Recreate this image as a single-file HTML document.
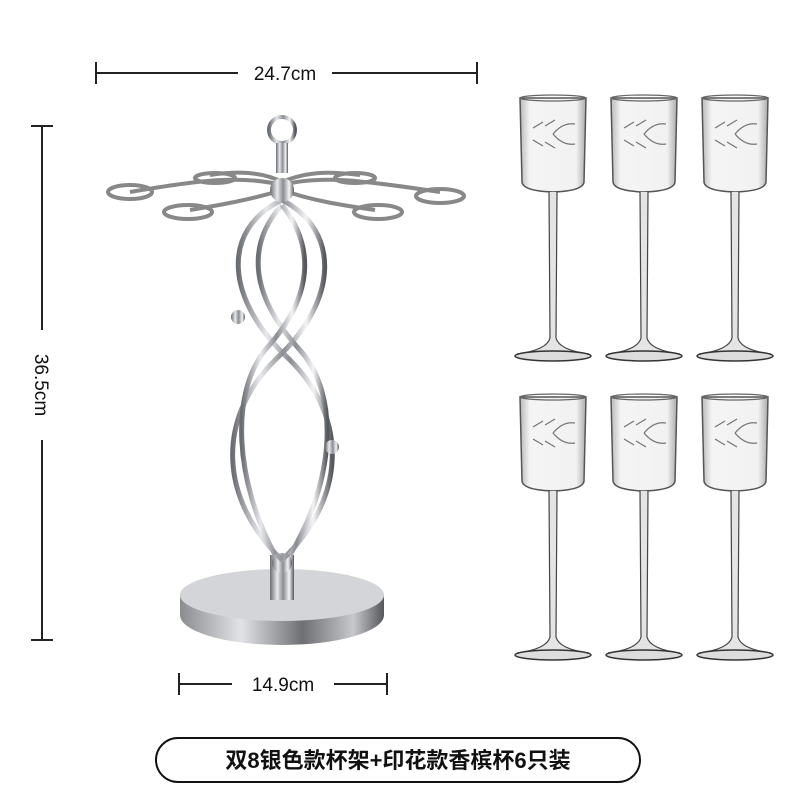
<!DOCTYPE html>
<html><head><meta charset="utf-8"><style>
html,body{margin:0;padding:0;background:#fff;}
body{width:800px;height:800px;position:relative;overflow:hidden;font-family:"Liberation Sans","Noto Sans CJK SC",sans-serif;}
svg{position:absolute;left:0;top:0;}
</style></head><body>
<svg width="800" height="800" viewBox="0 0 800 800" xmlns="http://www.w3.org/2000/svg">
<defs>
<linearGradient id="chrome" x1="0" y1="0" x2="1" y2="0">
<stop offset="0" stop-color="#6a6d72"/><stop offset="0.3" stop-color="#e8e9ec"/><stop offset="0.55" stop-color="#8a8d92"/><stop offset="0.8" stop-color="#f4f4f6"/><stop offset="1" stop-color="#55585c"/>
</linearGradient>
<linearGradient id="base" x1="0" y1="0" x2="1" y2="0">
<stop offset="0" stop-color="#8a8c90"/><stop offset="0.3" stop-color="#e2e3e6"/><stop offset="0.6" stop-color="#6d6f73"/><stop offset="0.85" stop-color="#c7c8cb"/><stop offset="1" stop-color="#55575b"/>
</linearGradient>
<linearGradient id="glass" x1="0" y1="0" x2="1" y2="0">
<stop offset="0" stop-color="#b8b9bb"/><stop offset="0.15" stop-color="#f4f4f4"/><stop offset="0.85" stop-color="#f2f2f2"/><stop offset="1" stop-color="#a9aaac"/>
</linearGradient>
<g id="g">
<path d="M-33,0 L33,0 L31,84 Q30,93 0,94 Q-30,93 -31,84 Z" fill="url(#glass)" stroke="#555" stroke-width="1.5"/>
<ellipse cx="0" cy="0" rx="33" ry="3" fill="none" stroke="#666" stroke-width="1.2"/>
<path d="M-20,30 l10,-6 m2,4 l10,-6 M-20,42 l10,6 m2,-4 l10,6 M0,36 q10,-12 22,-10 M0,36 q10,12 22,10" stroke="#777" stroke-width="1.3" fill="none"/>
<path d="M-4,94 L-3,240 Q-6,252 -36,256 L36,256 Q6,252 3,240 L4,94" fill="#e4e4e4" stroke="#444" stroke-width="1.2"/>
<ellipse cx="0" cy="258" rx="38" ry="5" fill="#ddd" stroke="#333" stroke-width="1.5"/>
</g>
</defs>
<g stroke="#222" stroke-width="2" fill="none">
<path d="M96,73 H238 M332,73 H477 M96,62 V84 M477,62 V84"/>
<path d="M42,126 V330 M42,440 V640 M31,126 H53 M31,640 H53"/>
<path d="M179,684 H232 M334,684 H387 M179,673 V695 M387,673 V695"/>
</g>
<g font-size="19" fill="#111" text-anchor="middle">
<text x="285" y="80">24.7cm</text>
<text x="283" y="691">14.9cm</text>
<text transform="translate(35,385) rotate(90)">36.5cm</text>
</g>
<path d="M180,595 L180,615 A102,30 0 0 0 384,615 L384,595 Z" fill="url(#base)"/>
<ellipse cx="282" cy="595" rx="102" ry="26" fill="#d4d5d8"/>
<rect x="270" y="555" width="24" height="45" fill="url(#chrome)"/>
<circle cx="282" cy="563" r="10" fill="url(#chrome)"/>
<g fill="none" stroke="url(#chrome)" stroke-width="5">
<path d="M282,200 C220,230 225,300 290,360 C350,420 345,500 282,560"/>
<path d="M282,200 C340,230 340,300 275,360 C215,420 220,500 282,560"/>
<path d="M282,205 C250,240 245,290 300,350 C340,395 335,480 290,555"/>
<path d="M282,205 C310,240 320,290 265,350 C230,395 235,480 275,555"/>
</g>
<circle cx="238" cy="317" r="7" fill="url(#chrome)"/>
<circle cx="332" cy="447" r="7" fill="url(#chrome)"/>
<g fill="none" stroke="#888" stroke-width="4">
<path d="M282,185 C240,175 200,180 130,192 M282,185 C320,175 360,180 440,192 M282,190 C250,200 220,205 190,210 M282,190 C310,200 340,205 375,210 M282,182 C260,170 230,172 210,175 M282,182 C310,170 335,172 360,175"/>
<ellipse cx="130" cy="192" rx="22" ry="7"/><ellipse cx="440" cy="196" rx="24" ry="7"/>
<ellipse cx="188" cy="212" rx="24" ry="7"/><ellipse cx="378" cy="212" rx="24" ry="7"/>
<ellipse cx="215" cy="178" rx="20" ry="5"/><ellipse cx="355" cy="178" rx="20" ry="5"/>
</g>
<circle cx="282" cy="130" r="13" fill="none" stroke="url(#chrome)" stroke-width="4"/>
<rect x="276" y="143" width="12" height="30" fill="url(#chrome)"/>
<circle cx="282" cy="190" r="12" fill="url(#chrome)"/>
<use href="#g" x="553" y="98"/><use href="#g" x="644" y="98"/><use href="#g" x="735" y="98"/>
<use href="#g" x="553" y="397"/><use href="#g" x="644" y="397"/><use href="#g" x="735" y="397"/>
<rect x="156" y="738" width="484" height="44" rx="22" fill="#fff" stroke="#111" stroke-width="2"/>
<text x="398" y="768" font-size="22" font-weight="bold" fill="#111" text-anchor="middle" font-family="Liberation Sans, Noto Sans CJK SC, sans-serif">双8银色款杯架+印花款香槟杯6只装</text>
</svg>
</body></html>
